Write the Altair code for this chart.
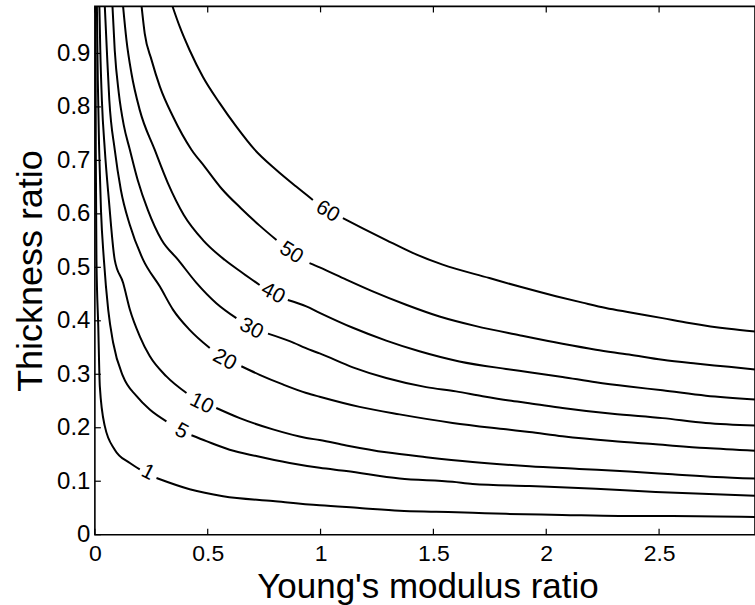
import altair as alt
import pandas as pd

# ---- axis ticks ----
x_ticks = [0, 0.5, 1, 1.5, 2, 2.5]
y_ticks = [0, 0.1, 0.2, 0.3, 0.4, 0.5, 0.6, 0.7, 0.8, 0.9]

# ---- contour levels and inline labels ----
levels = [1, 5, 10, 20, 30, 40, 50, 60]
label_x = [0.235, 0.384, 0.473, 0.575, 0.693, 0.789, 0.870, 1.031]
label_y = [0.116, 0.193, 0.245, 0.327, 0.385, 0.451, 0.527, 0.604]
label_angle = [27, 28, 26, 28, 26, 28, 32, 31]

# ---- contour lines (part before the label, part after) ----
c1_pre_x = [0.003, 0.004, 0.007, 0.015, 0.022, 0.044, 0.088, 0.155, 0.199]
c1_pre_y = [0.988, 0.720, 0.514, 0.390, 0.277, 0.203, 0.159, 0.134, 0.122]
c1_post_x = [0.273, 0.420, 0.568, 0.789, 0.996, 1.173, 1.350, 1.512, 1.674, 1.822, 2.071, 2.323, 2.558, 2.925]
c1_post_y = [0.106, 0.085, 0.072, 0.063, 0.055, 0.050, 0.045, 0.043, 0.041, 0.039, 0.037, 0.035, 0.035, 0.033]

c5_pre_x = [0.009, 0.013, 0.019, 0.027, 0.040, 0.059, 0.081, 0.125, 0.185, 0.243, 0.317]
c5_pre_y = [0.988, 0.850, 0.720, 0.607, 0.514, 0.421, 0.359, 0.296, 0.259, 0.234, 0.212]
c5_post_x = [0.428, 0.494, 0.597, 0.715, 0.863, 0.996, 1.114, 1.350, 1.585, 1.674, 1.925, 2.220, 2.485, 2.662, 2.925]
c5_post_y = [0.186, 0.175, 0.159, 0.147, 0.134, 0.125, 0.119, 0.105, 0.099, 0.095, 0.091, 0.086, 0.080, 0.077, 0.073]

c10_pre_x = [0.020, 0.024, 0.031, 0.044, 0.062, 0.088, 0.125, 0.155, 0.199, 0.243, 0.317, 0.406]
c10_pre_y = [0.988, 0.906, 0.813, 0.720, 0.626, 0.514, 0.471, 0.421, 0.371, 0.334, 0.296, 0.265]
c10_post_x = [0.538, 0.642, 0.789, 0.937, 0.996, 1.114, 1.291, 1.468, 1.674, 1.925, 2.146, 2.367, 2.559, 2.751, 2.925]
c10_post_y = [0.237, 0.218, 0.197, 0.181, 0.177, 0.167, 0.154, 0.145, 0.136, 0.128, 0.123, 0.118, 0.113, 0.108, 0.105]

c20_pre_x = [0.044, 0.053, 0.064, 0.088, 0.115, 0.155, 0.214, 0.288, 0.346, 0.420, 0.509]
c20_pre_y = [0.988, 0.906, 0.813, 0.720, 0.645, 0.579, 0.514, 0.464, 0.421, 0.383, 0.349]
c20_post_x = [0.649, 0.730, 0.833, 0.937, 0.996, 1.173, 1.350, 1.585, 1.822, 1.925, 2.072, 2.293, 2.485, 2.707, 2.925]
c20_post_y = [0.315, 0.299, 0.281, 0.265, 0.258, 0.239, 0.225, 0.209, 0.197, 0.192, 0.184, 0.175, 0.169, 0.162, 0.157]

c30_pre_x = [0.078, 0.088, 0.106, 0.128, 0.155, 0.190, 0.235, 0.296, 0.369, 0.450, 0.538, 0.627]
c30_pre_y = [0.988, 0.906, 0.826, 0.766, 0.720, 0.663, 0.607, 0.551, 0.514, 0.471, 0.433, 0.405]
c30_post_x = [0.767, 0.863, 0.951, 0.996, 1.143, 1.291, 1.468, 1.600, 1.718, 1.836, 1.925, 2.072, 2.293, 2.515, 2.707, 2.925]
c30_post_y = [0.376, 0.362, 0.346, 0.339, 0.313, 0.293, 0.276, 0.268, 0.259, 0.251, 0.246, 0.237, 0.226, 0.218, 0.209, 0.204]

c40_pre_x = [0.125, 0.140, 0.162, 0.199, 0.265, 0.323, 0.394, 0.479, 0.575, 0.656, 0.730]
c40_pre_y = [0.988, 0.925, 0.863, 0.794, 0.720, 0.658, 0.598, 0.551, 0.514, 0.489, 0.467]
c40_post_x = [0.855, 0.937, 0.996, 1.143, 1.291, 1.438, 1.615, 1.822, 1.925, 2.072, 2.220, 2.367, 2.515, 2.707, 2.925]
c40_post_y = [0.439, 0.427, 0.415, 0.387, 0.363, 0.343, 0.324, 0.310, 0.304, 0.295, 0.285, 0.277, 0.270, 0.260, 0.253]

c50_pre_x = [0.207, 0.221, 0.251, 0.288, 0.346, 0.428, 0.487, 0.562, 0.646, 0.730, 0.805]
c50_pre_y = [0.988, 0.937, 0.888, 0.838, 0.782, 0.720, 0.688, 0.647, 0.611, 0.578, 0.551]
c50_post_x = [0.951, 0.996, 1.114, 1.231, 1.379, 1.527, 1.689, 1.881, 2.072, 2.220, 2.367, 2.515, 2.662, 2.810, 2.925]
c50_post_y = [0.508, 0.500, 0.477, 0.455, 0.430, 0.408, 0.390, 0.373, 0.357, 0.346, 0.337, 0.327, 0.320, 0.314, 0.309]

c60_pre_x = [0.344, 0.376, 0.420, 0.479, 0.553, 0.627, 0.708, 0.804, 0.892, 0.966]
c60_pre_y = [0.988, 0.950, 0.906, 0.856, 0.807, 0.763, 0.720, 0.682, 0.651, 0.626]
c60_post_x = [1.099, 1.187, 1.291, 1.408, 1.541, 1.748, 1.881, 2.043, 2.161, 2.264, 2.367, 2.515, 2.633, 2.810, 2.925]
c60_post_y = [0.592, 0.573, 0.551, 0.527, 0.505, 0.480, 0.464, 0.446, 0.434, 0.424, 0.416, 0.405, 0.396, 0.385, 0.380]

curves = {
    1: [(c1_pre_x, c1_pre_y), (c1_post_x, c1_post_y)],
    5: [(c5_pre_x, c5_pre_y), (c5_post_x, c5_post_y)],
    10: [(c10_pre_x, c10_pre_y), (c10_post_x, c10_post_y)],
    20: [(c20_pre_x, c20_pre_y), (c20_post_x, c20_post_y)],
    30: [(c30_pre_x, c30_pre_y), (c30_post_x, c30_post_y)],
    40: [(c40_pre_x, c40_pre_y), (c40_post_x, c40_post_y)],
    50: [(c50_pre_x, c50_pre_y), (c50_post_x, c50_post_y)],
    60: [(c60_pre_x, c60_pre_y), (c60_post_x, c60_post_y)],
}

rows = []
for lev, parts in curves.items():
    for k, (xs, ys) in enumerate(parts):
        for i, (xv, yv) in enumerate(zip(xs, ys)):
            rows.append({"seg": f"{lev}-{k}", "order": i, "x": xv, "y": yv})
line_df = pd.DataFrame(rows)

label_df = pd.DataFrame({
    "text": [str(v) for v in levels],
    "x": label_x,
    "y": label_y,
    "ang": label_angle,
})

FONT = "Liberation Sans"
W, H = 661, 529

x_scale = alt.Scale(domain=[0, 2.925], nice=False, zero=False)
y_scale = alt.Scale(domain=[0, 0.988], nice=False, zero=False)

x_axis = alt.Axis(
    values=x_ticks, format="~g", title="Young's modulus ratio", grid=False,
    ticks=False, tickSize=0, domain=False, labelFlush=False, labelOverlap=False,
    labelFontSize=23, labelFont=FONT, labelColor="black", labelPadding=8,
    titleFontSize=35, titleFont=FONT, titleFontWeight="normal", titleColor="black",
    titleX=333, titleY=63, titleBaseline="alphabetic", titleAlign="center",
)
y_axis = alt.Axis(
    values=y_ticks, format="~g", title="Thickness ratio", grid=False,
    ticks=False, tickSize=0, domain=False, labelFlush=False, labelOverlap=False,
    labelFontSize=24, labelFont=FONT, labelColor="black", labelPadding=5,
    titleFontSize=36, titleFont=FONT, titleFontWeight="normal", titleColor="black",
    titleX=-53, titleY=264.5, titleBaseline="alphabetic", titleAlign="center",
    titleAngle=270,
)

lines = alt.Chart(line_df).mark_line(
    color="black", strokeWidth=2, clip=True, interpolate="monotone"
).encode(
    x=alt.X("x:Q", scale=x_scale, axis=x_axis),
    y=alt.Y("y:Q", scale=y_scale, axis=y_axis),
    detail="seg:N",
    order="order:Q",
)

labels = alt.Chart(label_df).mark_text(
    font=FONT, fontSize=21, color="black", align="center", baseline="middle"
).encode(
    x=alt.X("x:Q", scale=x_scale),
    y=alt.Y("y:Q", scale=y_scale),
    text="text:N",
    angle=alt.Angle("ang:Q", scale=None),
)

xt_df = pd.DataFrame({"t": x_ticks})
yt_df = pd.DataFrame({"t": y_ticks})

xt_bottom = alt.Chart(xt_df).mark_rule(color="black", strokeWidth=1.2).encode(
    x=alt.X("t:Q", scale=x_scale), y=alt.value(H), y2=alt.value(H - 6)
)
xt_top = alt.Chart(xt_df).mark_rule(color="black", strokeWidth=1.2).encode(
    x=alt.X("t:Q", scale=x_scale), y=alt.value(0), y2=alt.value(6)
)
yt_left = alt.Chart(yt_df).mark_rule(color="black", strokeWidth=1.2).encode(
    y=alt.Y("t:Q", scale=y_scale), x=alt.value(0), x2=alt.value(6)
)

chart = alt.layer(lines, labels, xt_bottom, xt_top, yt_left).properties(
    width=W, height=H,
    autosize=alt.AutoSizeParams(type="none"),
    padding={"left": 95, "top": 6, "right": 0, "bottom": 70},
    background="white",
).configure_view(stroke="black", strokeWidth=1.6)

chart.save("out.html", embed_options={"renderer": "svg", "actions": False})
